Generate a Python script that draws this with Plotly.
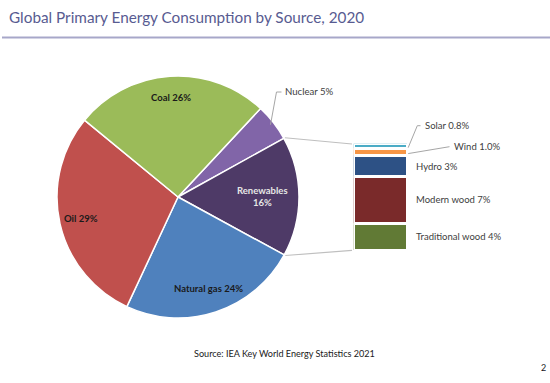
import math
import plotly.graph_objects as go

# ---------------- data ----------------
title_text = "Global Primary Energy Consumption by Source, 2020"
source_note = "Source: IEA Key World Energy Statistics 2021"
page_number = "2"

sources = ["Nuclear", "Renewables", "Natural gas", "Oil", "Coal"]
shares = [5, 16, 24, 29, 26]
pie_colors = ["#8165A8", "#4E3A67", "#4F81BD", "#C0504D", "#9BBB59"]

renew_parts = ["Traditional wood", "Modern wood", "Hydro", "Wind", "Solar"]
renew_shares = [4, 7, 3, 1.0, 0.8]
renew_labels = ["4%", "7%", "3%", "1.0%", "0.8%"]
bar_colors = ["#617A35", "#7A2A2A", "#2D5185", "#F79646", "#4BACC6"]

# ---------------- layout helpers ----------------
W, H = 550, 383
CX, CY, R = 178, 197, 121          # pie centre / radius in px
ROT = 43                            # clockwise from 12 o'clock
BAR_X0, BAR_X1 = 355, 406.7
BAR_TOP, BAR_BOT = 145, 249.3
LW = 2.7                            # white separator width

FONT = "Lato"


def px2paper(x, y):
    return x / W, 1 - y / H


def pie_pt(angle_deg, rfrac):
    a = math.radians(angle_deg)
    return CX + R * rfrac * math.cos(a), CY - R * rfrac * math.sin(a)


total = sum(shares)
bounds = [90 - ROT]
for v in shares:
    bounds.append(bounds[-1] - 360 * v / total)
mids = [(bounds[i] + bounds[i + 1]) / 2 for i in range(len(shares))]

rsum = sum(renew_shares)


def bar_y(v):
    return BAR_BOT - (v / rsum) * (BAR_BOT - BAR_TOP)


cum = [0]
for v in renew_shares:
    cum.append(cum[-1] + v)

fig = go.Figure()

fig.add_trace(go.Pie(
    labels=sources, values=shares, sort=False, direction="clockwise",
    rotation=ROT, textinfo="none", hoverinfo="skip",
    marker=dict(colors=pie_colors, line=dict(color="white", width=1.5)),
    domain=dict(x=[(CX - R) / W, (CX + R) / W],
                y=[1 - (CY + R) / H, 1 - (CY - R) / H]),
    showlegend=False,
))

for name, v, col in zip(renew_parts, renew_shares, bar_colors):
    fig.add_trace(go.Bar(
        x=[0], y=[v], width=1, name=name, marker_color=col,
        marker_line=dict(color="white", width=LW),
        hoverinfo="skip", showlegend=False, xaxis="x", yaxis="y",
    ))

ann = []
shapes = []

# title + rule
ann.append(dict(text=title_text, x=7 / W, y=1 - 17 / H, xref="paper", yref="paper",
                xanchor="left", yanchor="middle", showarrow=False,
                font=dict(family=FONT, size=15.3, color="#585B91")))
shapes.append(dict(type="line", xref="paper", yref="paper",
                   x0=2 / W, x1=1, y0=1 - 37.5 / H, y1=1 - 37.5 / H,
                   line=dict(color="#A7A7C9", width=2)))

# pie labels
lbl_r = {"Coal": 0.82, "Oil": 0.82, "Natural gas": 0.80, "Renewables": 0.70}
for name, v, m in zip(sources, shares, mids):
    if name == "Nuclear":
        x0, y0 = pie_pt(m, 0.97)
        x1, y1 = x0 + 6, 92
        x2 = x1 + 5
        for (a, b, c, d) in [(x0, y0, x1, y1), (x1, y1, x2, y1)]:
            pa, pb = px2paper(a, b)
            pc, pd = px2paper(c, d)
            shapes.append(dict(type="line", xref="paper", yref="paper",
                               x0=pa, y0=pb, x1=pc, y1=pd,
                               line=dict(color="#A6A6A6", width=1)))
        px, py = px2paper(x2 + 2, y1)
        ann.append(dict(text=f"{name} {v}%", x=px, y=py, xref="paper", yref="paper",
                        xanchor="left", yanchor="middle", showarrow=False,
                        font=dict(family=FONT, size=9.6, color="#404040")))
        continue
    x, y = pie_pt(m, lbl_r[name])
    px, py = px2paper(x, y)
    if name == "Renewables":
        txt = f"<b>{name}<br>{v}%</b>"
        col = "#E6E6E6"
    else:
        txt = f"<b>{name} {v}%</b>"
        col = "#1A1A1A"
    ann.append(dict(text=txt, x=px, y=py, xref="paper", yref="paper",
                    xanchor="center", yanchor="middle", showarrow=False,
                    font=dict(family=FONT, size=9.5, color=col)))

# connector lines from renewables slice to the bar
for ang, by in [(bounds[1], BAR_TOP - 1), (bounds[2], BAR_BOT + 1)]:
    x0, y0 = pie_pt(ang, 1.01)
    pa, pb = px2paper(x0, y0)
    pc, pd = px2paper(BAR_X0 - 3, by)
    shapes.append(dict(type="line", xref="paper", yref="paper",
                       x0=pa, y0=pb, x1=pc, y1=pd,
                       line=dict(color="#BFBFBF", width=1.2)))

# bar labels
for i, (name, lab) in enumerate(zip(renew_parts, renew_labels)):
    mid_px = bar_y((cum[i] + cum[i + 1]) / 2)
    text = f"{name} {lab}"
    if name == "Solar":
        pts = [(BAR_X1 + 1.5, mid_px), (417.3, 125.7), (420.5, 125.7)]
        tx, ty = 423, 125.7
    elif name == "Wind":
        pts = [(BAR_X1 + 1.5, mid_px), (449.5, 146.7)]
        tx, ty = 451.7, 146.7
    else:
        pts = None
        tx, ty = 414, mid_px
    if pts:
        for (a, b), (c, d) in zip(pts[:-1], pts[1:]):
            pa, pb = px2paper(a, b)
            pc, pd = px2paper(c, d)
            shapes.append(dict(type="line", xref="paper", yref="paper",
                               x0=pa, y0=pb, x1=pc, y1=pd,
                               line=dict(color="#A6A6A6", width=1)))
    px, py = px2paper(tx, ty)
    ann.append(dict(text=text, x=px, y=py, xref="paper", yref="paper",
                    xanchor="left", yanchor="middle", showarrow=False,
                    font=dict(family=FONT, size=9.5, color="#404040")))

# source + page number
px, py = px2paper(284, 353)
ann.append(dict(text=source_note, x=px, y=py, xref="paper", yref="paper",
                xanchor="center", yanchor="middle", showarrow=False,
                font=dict(family=FONT, size=9.1, color="#1A1A1A")))
px, py = px2paper(543, 367)
ann.append(dict(text=page_number, x=px, y=py, xref="paper", yref="paper",
                xanchor="center", yanchor="middle", showarrow=False,
                font=dict(family=FONT, size=9, color="#1A1A1A")))

half = LW / 2
fig.update_layout(
    width=W, height=H, margin=dict(l=0, r=0, t=0, b=0),
    paper_bgcolor="white", plot_bgcolor="white",
    barmode="stack", bargap=0, hovermode=False,
    xaxis=dict(domain=[(BAR_X0 - half) / W, (BAR_X1 + half) / W], range=[-0.5, 0.5],
               visible=False, fixedrange=True),
    yaxis=dict(domain=[1 - (BAR_BOT + half) / H, 1 - (BAR_TOP - half) / H],
               range=[0, rsum], visible=False, fixedrange=True),
    annotations=ann, shapes=shapes,
)

fig.write_html("out.html", config={"displayModeBar": False},
               post_script="document.body.style.margin='0px';document.body.style.overflow='hidden';")
